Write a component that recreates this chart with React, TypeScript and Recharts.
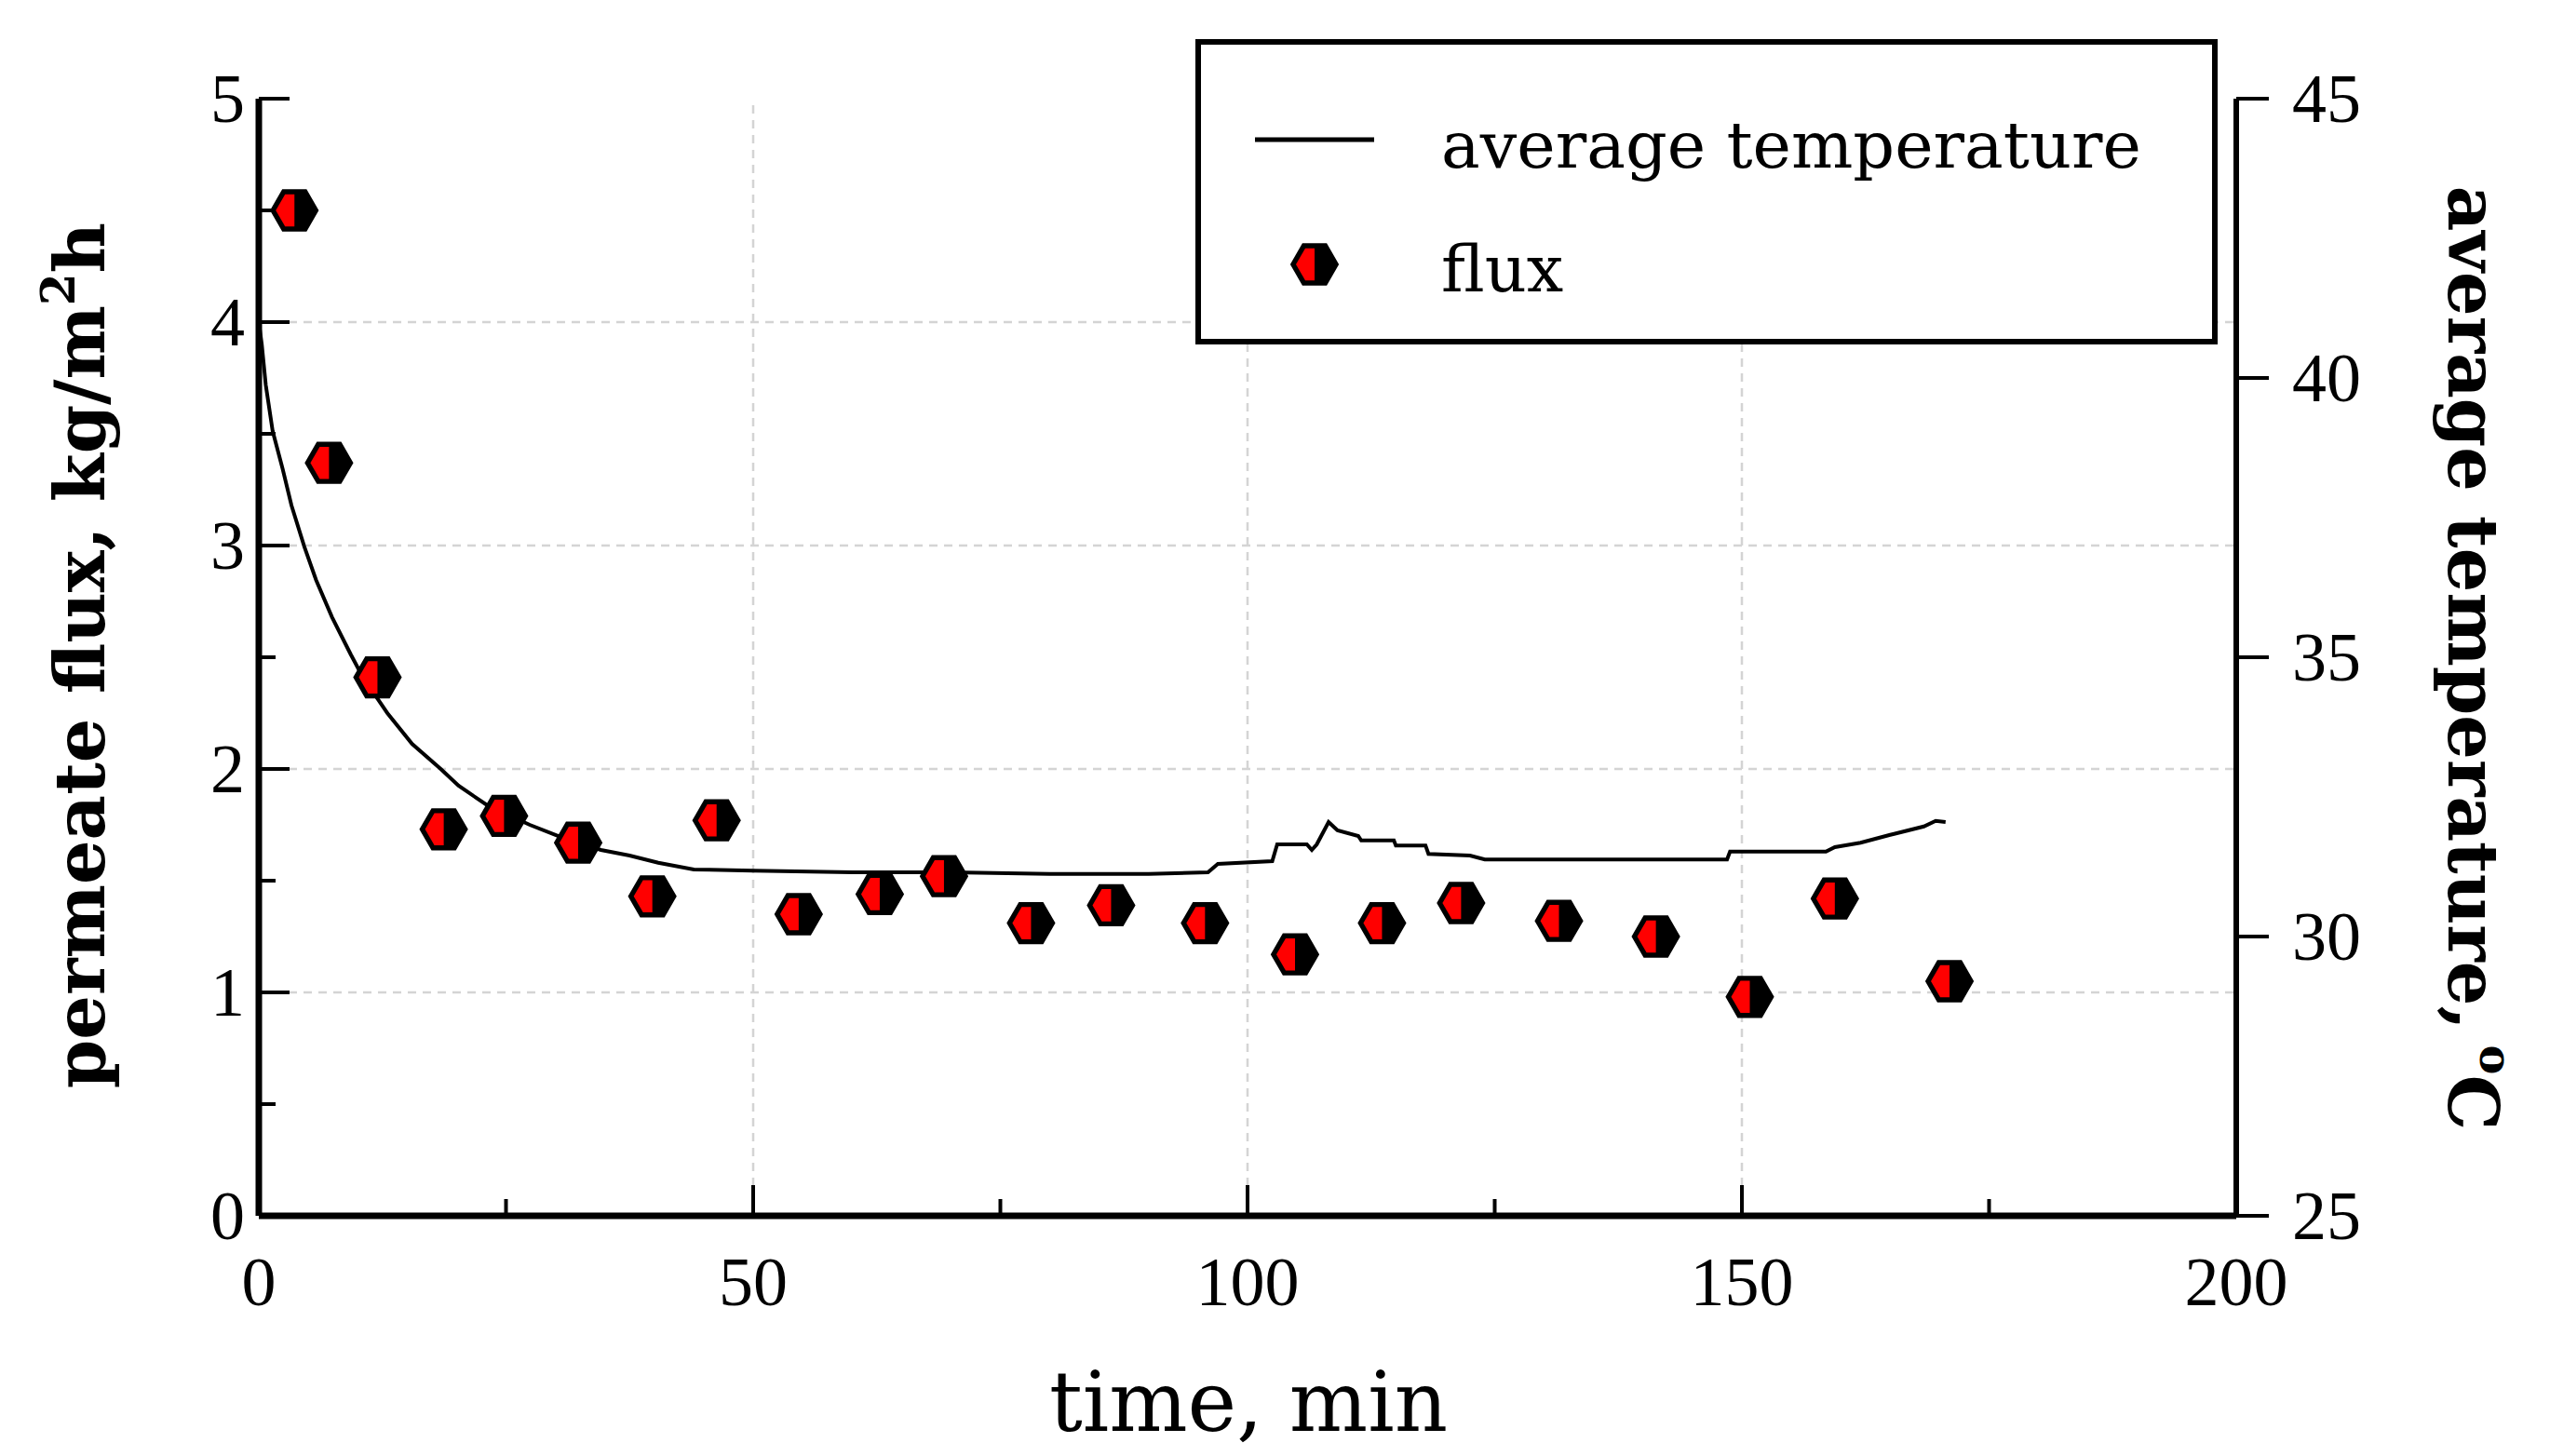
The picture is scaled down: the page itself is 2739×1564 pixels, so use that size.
import React from 'react';
import {
  ComposedChart,
  Line,
  Scatter,
  XAxis,
  YAxis,
  ReferenceLine,
  Legend,
} from 'recharts';

// flux measurements (left axis)
const fluxTime = [3.6, 7.1, 12.0, 18.7, 24.8, 32.3, 39.8, 46.3, 54.6, 62.8, 69.3, 78.1, 86.2, 95.7, 104.8, 113.6, 121.6, 131.5, 141.3, 150.8, 159.4, 171.0];
const fluxValues = [4.5, 3.37, 2.41, 1.73, 1.79, 1.67, 1.43, 1.77, 1.35, 1.44, 1.52, 1.31, 1.39, 1.31, 1.17, 1.31, 1.4, 1.32, 1.25, 0.98, 1.42, 1.05];

// average temperature trace (right axis)
const tempTime = [0, 0.3, 0.7, 1.4, 2.4, 3.3, 4.6, 5.8, 7.4, 9.3, 10.5, 13, 15.5, 18.4, 20.2, 23.1, 27.4, 30.3, 34.6, 37.5, 40.4, 44, 50, 60, 70, 80, 90, 96, 97, 102.5, 103, 106, 106.5, 107, 108.2, 109.1, 111.2, 111.5, 114.8, 115, 118, 118.3, 122.5, 124, 148.5, 148.8, 158.5, 159.4, 162, 165, 168.4, 169.6, 170.6];
const tempValues = [41.0, 40.6, 39.88, 39.05, 38.38, 37.72, 36.98, 36.38, 35.72, 35.05, 34.65, 34.0, 33.45, 33.0, 32.7, 32.35, 32.0, 31.8, 31.55, 31.45, 31.32, 31.2, 31.18, 31.15, 31.15, 31.12, 31.12, 31.15, 31.3, 31.35, 31.65, 31.65, 31.55, 31.65, 32.05, 31.9, 31.8, 31.72, 31.72, 31.63, 31.63, 31.48, 31.45, 31.38, 31.38, 31.52, 31.52, 31.6, 31.68, 31.82, 31.97, 32.07, 32.05];

const xTicks = [0, 25, 50, 75, 100, 125, 150, 175, 200];
const leftTicks = [0, 0.5, 1, 1.5, 2, 2.5, 3, 3.5, 4, 4.5, 5];
const rightTicks = [25, 30, 35, 40, 45];
const xGrid = [50, 100, 150];
const yGrid = [1, 2, 3, 4];

const fluxData = fluxTime.map((t, i) => ({ t, flux: fluxValues[i] }));
const tempData = tempTime.map((t, i) => ({ t, temp: tempValues[i] }));

const W = 2739;
const H = 1564;
const tickFont = '"Liberation Serif", serif';
const titleFont = '"DejaVu Serif", serif';

function hexPoints(cx: number, cy: number, r: number) {
  const h = r * 0.866;
  return `${cx + r},${cy} ${cx + r / 2},${cy - h} ${cx - r / 2},${cy - h} ${cx - r},${cy} ${cx - r / 2},${cy + h} ${cx + r / 2},${cy + h}`;
}

function Hex({ cx, cy }: { cx: number; cy: number }) {
  const r = 25;
  const ri = r - 5;
  const hi = ri * 0.866;
  return (
    <g>
      <polygon points={hexPoints(cx, cy, r)} fill="#000" stroke="#000" strokeWidth={2} />
      <polygon
        points={`${cx},${cy - hi} ${cx - ri / 2},${cy - hi} ${cx - ri},${cy} ${cx - ri / 2},${cy + hi} ${cx},${cy + hi}`}
        fill="#ff0000"
      />
    </g>
  );
}

const XTick = (props: any) => {
  const { x, y, payload } = props;
  const major = payload.value % 50 === 0;
  return (
    <g>
      <line x1={x} x2={x} y1={y} y2={y - (major ? 33 : 18)} stroke="#000" strokeWidth={4} />
      {major && (
        <text x={x} y={y + 96} textAnchor="middle" fontFamily={tickFont} fontSize={74} fill="#000">
          {payload.value}
        </text>
      )}
    </g>
  );
};

const LeftTick = (props: any) => {
  const { x, y, payload } = props;
  const major = Number.isInteger(payload.value);
  return (
    <g>
      <line x1={x} x2={x + (major ? 33 : 18)} y1={y} y2={y} stroke="#000" strokeWidth={4} />
      {major && (
        <text x={x - 15} y={y + 25} textAnchor="end" fontFamily={tickFont} fontSize={74} fill="#000">
          {payload.value}
        </text>
      )}
    </g>
  );
};

const RightTick = (props: any) => {
  const { x, y, payload } = props;
  return (
    <g>
      <line x1={x} x2={x + 35} y1={y} y2={y} stroke="#000" strokeWidth={4} />
      <text x={x + 60} y={y + 25} textAnchor="start" fontFamily={tickFont} fontSize={74} fill="#000">
        {payload.value}
      </text>
    </g>
  );
};

const LeftTitle = () => (
  <text
    x={112}
    y={704}
    transform="rotate(-90 112 704)"
    textAnchor="middle"
    fontFamily={titleFont}
    fontWeight="bold"
    fontSize={75}
    fill="#000"
  >
    permeate flux, kg/m
    <tspan fontSize={50} dy={-32}>2</tspan>
    <tspan dy={32}>h</tspan>
  </text>
);

const RightTitle = () => (
  <text
    x={2630}
    y={707}
    transform="rotate(90 2630 707)"
    textAnchor="middle"
    fontFamily={titleFont}
    fontWeight="bold"
    fontSize={75}
    fill="#000"
  >
    average temperature,
    <tspan fontSize={48} dy={-34} dx={16}>o</tspan>
    <tspan dy={34}>C</tspan>
  </text>
);

const BottomTitle = () => (
  <text x={1341} y={1537} textAnchor="middle" fontFamily={titleFont} fontSize={89} fill="#000">
    time, min
  </text>
);

const LegendBox = () => (
  <div
    style={{
      width: 1098,
      height: 328,
      boxSizing: 'border-box',
      border: '6px solid #000',
      background: '#fff',
    }}
  >
    <svg width={1086} height={316} style={{ display: 'block' }}>
      <line x1={58} x2={186} y1={102} y2={102} stroke="#000" strokeWidth={5} />
      <text x={258} y={132} fontFamily={titleFont} fontSize={70} fill="#000">
        average temperature
      </text>
      <Hex cx={122} cy={236} />
      <text x={258} y={265} fontFamily={titleFont} fontSize={70} fill="#000">
        flux
      </text>
    </svg>
  </div>
);

export default function App() {
  return (
    <div style={{ position: 'absolute', left: 0, top: 0, width: W, height: H, background: '#fff' }}>
      <ComposedChart width={W} height={H} margin={{ top: 106, right: 0, bottom: 0, left: 0 }}>
        <XAxis
          xAxisId="main"
          dataKey="t"
          type="number"
          domain={[0, 200]}
          ticks={xTicks}
          interval={0}
          height={258}
          tickSize={0}
          tickMargin={0}
          tickLine={false}
          axisLine={{ stroke: '#000', strokeWidth: 7 }}
          tick={<XTick />}
          label={<BottomTitle />}
        />
        <XAxis
          xAxisId="top"
          type="number"
          orientation="top"
          domain={[0, 200]}
          height={0}
          tick={false}
          tickLine={false}
          axisLine={{ stroke: '#000', strokeWidth: 6 }}
        />
        <YAxis
          yAxisId="left"
          dataKey="flux"
          type="number"
          domain={[0, 5]}
          ticks={leftTicks}
          interval={0}
          width={278}
          tickSize={0}
          tickMargin={0}
          tickLine={false}
          axisLine={{ stroke: '#000', strokeWidth: 7 }}
          tick={<LeftTick />}
          label={<LeftTitle />}
        />
        <YAxis
          yAxisId="right"
          orientation="right"
          dataKey="temp"
          type="number"
          domain={[25, 45]}
          ticks={rightTicks}
          interval={0}
          width={337}
          tickSize={0}
          tickMargin={0}
          tickLine={false}
          axisLine={{ stroke: '#000', strokeWidth: 6 }}
          tick={<RightTick />}
          label={<RightTitle />}
        />
        {xGrid.map((v) => (
          <ReferenceLine
            key={`gx${v}`}
            x={v}
            xAxisId="main"
            yAxisId="left"
            stroke="#d4d4d4"
            strokeWidth={2.5}
            strokeDasharray="9 7"
          />
        ))}
        {yGrid.map((v) => (
          <ReferenceLine
            key={`gy${v}`}
            y={v}
            xAxisId="main"
            yAxisId="left"
            stroke="#d4d4d4"
            strokeWidth={2.5}
            strokeDasharray="9 7"
          />
        ))}
        <Line
          data={tempData}
          xAxisId="main"
          yAxisId="right"
          dataKey="temp"
          type="linear"
          stroke="#000"
          strokeWidth={4}
          dot={false}
          activeDot={false}
          isAnimationActive={false}
        />
        <Scatter
          data={fluxData}
          xAxisId="main"
          yAxisId="left"
          dataKey="flux"
          shape={(p: any) => <Hex cx={p.cx} cy={p.cy} />}
          isAnimationActive={false}
        />
        <Legend
          layout="vertical"
          align="center"
          verticalAlign="middle"
          content={() => <LegendBox />}
          wrapperStyle={{ position: 'absolute', left: 1284, top: 42, width: 1098, height: 328 }}
        />
      </ComposedChart>
    </div>
  );
}
